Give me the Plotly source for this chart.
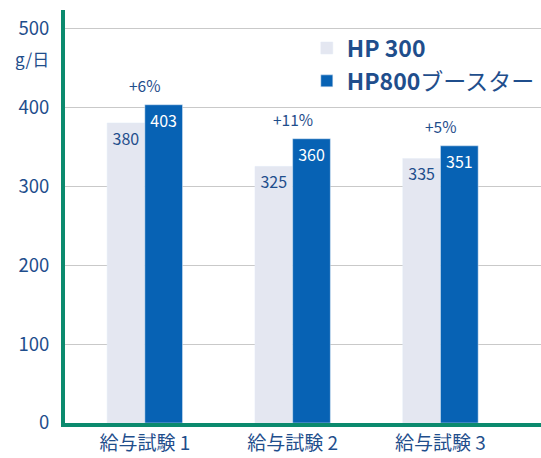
import plotly.graph_objects as go

categories = ["給与試験 1", "給与試験 2", "給与試験 3"]
hp300 = [380, 325, 335]
hp800 = [403, 360, 351]
pct_labels = ["+6%", "+11%", "+5%"]
series_names = ["<b>HP 300</b>", "<b>HP800</b>ブースター"]
y_ticks = [0, 100, 200, 300, 400, 500]
unit_label = "g/日"

FONT = "Noto Sans CJK JP"
TXT = "#1f4e8c"
LIGHT = "#e4e7f1"
DARK = "#0762b4"
GREEN = "#0b8a6e"

fig = go.Figure()
fig.add_trace(go.Bar(
    x=categories, y=hp300, name=series_names[0], marker_color=LIGHT,
    text=[str(v) for v in hp300], textposition="inside", insidetextanchor="end",
    textfont=dict(color=TXT, size=16, family=FONT), textangle=0,
))
fig.add_trace(go.Bar(
    x=categories, y=hp800, name=series_names[1], marker_color=DARK,
    text=[str(v) for v in hp800], textposition="inside", insidetextanchor="end",
    textfont=dict(color="white", size=16, family=FONT), textangle=0,
))

for c, v, p in zip(categories, hp800, pct_labels):
    fig.add_annotation(x=c, y=v, text=p, showarrow=False, yshift=20,
                       xanchor="center", yanchor="middle",
                       font=dict(size=15.5, color=TXT, family=FONT))

fig.add_annotation(xref="paper", yref="y", x=0, y=462, text=unit_label,
                   showarrow=False, xanchor="right", xshift=-14,
                   font=dict(size=17, color=TXT, family=FONT))

fig.update_layout(
    width=541, height=458,
    margin=dict(l=65, r=0, t=10, b=35),
    paper_bgcolor="white", plot_bgcolor="white",
    barmode="group", bargap=0.49, bargroupgap=0,
    font=dict(family=FONT, color=TXT),
    showlegend=True,
    legend=dict(x=0.508, y=0.96, xanchor="left", yanchor="top",
                font=dict(size=23, color=TXT, family=FONT),
                bgcolor="rgba(0,0,0,0)", tracegroupgap=0,
                itemwidth=30),
    xaxis=dict(range=[-0.54, 2.68], showline=True, linecolor=GREEN, linewidth=4,
               showgrid=False, ticks="", ticklabelstandoff=0, automargin=False,
               tickfont=dict(size=19, color=TXT, family=FONT)),
    yaxis=dict(range=[0, 523], tickvals=y_ticks, showline=True, linecolor=GREEN,
               linewidth=4, showgrid=True, gridcolor="#c9c9c9", gridwidth=1,
               zeroline=False, ticks="", ticklen=0, ticklabelstandoff=8,
               automargin=False,
               tickfont=dict(size=18.5, color=TXT, family=FONT)),
)

fig.write_html("out.html", config={"displayModeBar": False},
               post_script="document.body.style.margin='0px';")
